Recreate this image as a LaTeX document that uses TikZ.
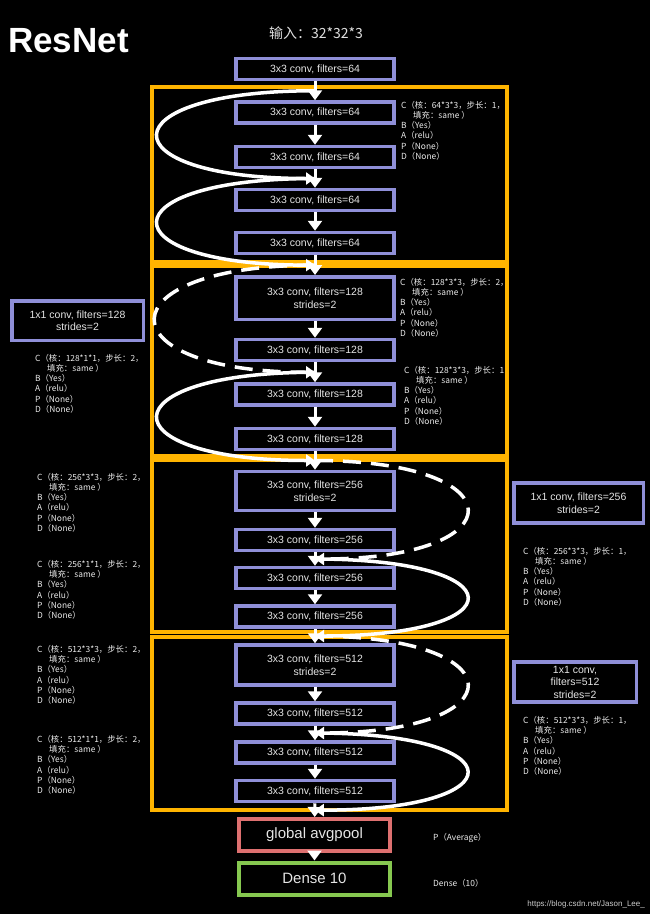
\documentclass[tikz,border=0pt]{standalone}
\usepackage{fontspec}
\setmainfont{Liberation Sans}
\newfontfamily\cjk{Noto Sans CJK SC}
\usetikzlibrary{arrows.meta,calc}

\definecolor{convcol}{RGB}{143,143,216}
\definecolor{framecol}{RGB}{255,180,0}
\definecolor{poolcol}{RGB}{222,112,112}
\definecolor{densecol}{RGB}{134,200,80}

% text beside a conv layer: kernel, stride
\newcommand{\layernote}[2]{C（核：#1，步长：#2\\\hspace*{12pt}填充：same ）\\B（Yes）\\A（relu）\\P（None）\\D（None）}

\begin{document}
\begin{tikzpicture}[
    x=1pt, y=-1pt,
    conv/.style={draw=convcol,line width=3.5pt,text=white!90!black,inner sep=0pt,
      minimum width=158pt,minimum height=21pt,align=center,
      font=\fontsize{10.5}{12.5}\selectfont},
    wide/.style={conv,minimum height=39pt},
    side/.style={conv,minimum height=40pt},
    head/.style={conv,line width=4pt,minimum width=151pt,minimum height=32pt,
      font=\fontsize{15}{18}\selectfont},
    frame/.style={draw=framecol,line width=4pt},
    note/.style={text=white!92!black,inner sep=0pt,anchor=north west,align=left,
      font=\cjk\fontsize{8.4}{10.2}\selectfont},
    flow/.style={white,line width=3pt,-{Triangle[width=14pt,length=10pt]}},
    skip/.style={white,line width=3.5pt,-{Triangle[width=12pt,length=9pt]}},
    shortcut/.style={skip,dash pattern=on 18pt off 10pt}
    ]

    \fill[black] (0,0) rectangle (650,914);
    \useasboundingbox (0,0) rectangle (650,914);

    \node (title) [text=white,inner sep=0pt,anchor=west,
      font=\bfseries\fontsize{35}{40}\selectfont] at (8,41) {ResNet};
    \node (input) [text=white!88!black,font=\cjk\fontsize{14}{16}\selectfont]
      at (316,33) {输入：32*32*3};

    % notes
    \node (n1) [note] at (401,101) {\layernote{64*3*3}{1，}};
    \node (n2) [note] at (400,278) {\layernote{128*3*3}{2，}};
    \node (n3) [note] at (404,366) {\layernote{128*3*3}{1}};
    \node (n4) [note] at (35,354) {\layernote{128*1*1}{2，}};
    \node (n5) [note] at (37,473) {\layernote{256*3*3}{2，}};
    \node (n6) [note] at (37,560) {\layernote{256*1*1}{2，}};
    \node (n7) [note] at (523,547) {\layernote{256*3*3}{1，}};
    \node (n8) [note] at (37,645) {\layernote{512*3*3}{2，}};
    \node (n9) [note] at (37,735) {\layernote{512*1*1}{2，}};
    \node (n10) [note] at (523,716) {\layernote{512*3*3}{1，}};

    \node (npool) [note,anchor=west] at (433,838) {P（Average）};
    \node (ndense) [note,anchor=west] at (433,883) {Dense（10）};
    \node (url) [text=white!80!black,inner sep=0pt,anchor=east,
      font=\fontsize{8}{10}\selectfont] at (645,904) {https://blog.csdn.net/Jason\_Lee\_};

    % stages
    \draw[frame] (152,87) rectangle (507,262);
    \draw[frame] (152,266) rectangle (507,456);
    \draw[frame] (152,460) rectangle (507,632);
    \draw[frame] (152,637) rectangle (507,810);

    \node (b0) [conv] at (315,69) {3x3 conv, filters=64};
    \foreach \y [count=\i] in {112.5,157,200,243}
      \node (b\i) [conv] at (315,\y) {3x3 conv, filters=64};

    \node (c1) [wide,minimum height=42.5pt] at (315,298) {3x3 conv, filters=128\\strides=2};
    \foreach \y [count=\i from 2] in {350,394.5,439}
      \node (c\i) [conv] at (315,\y) {3x3 conv, filters=128};

    \node (d1) [wide] at (315,491) {3x3 conv, filters=256\\strides=2};
    \foreach \y [count=\i from 2] in {540,578,616.5}
      \node (d\i) [conv] at (315,\y) {3x3 conv, filters=256};

    \node (e1) [wide,minimum height=40pt] at (315,665) {3x3 conv, filters=512\\strides=2};
    \foreach \y [count=\i from 2] in {713.5,752.5,791}
      \node (e\i) [conv] at (315,\y) {3x3 conv, filters=512};

    \node (pool) [head,draw=poolcol] at (314.5,835) {global avgpool};
    \node (dense) [head,draw=densecol] at (314.5,878.5) {Dense 10};

    \node (s128) [side,minimum width=131.5pt,minimum height=39.5pt]
      at (77.5,320.5) {1x1 conv, filters=128\\strides=2};
    \node (s256) [side,minimum width=129.5pt]
      at (578.5,503) {1x1 conv, filters=256\\strides=2};
    \node (s512) [side,minimum width=122.5pt]
      at (575,682) {1x1 conv,\\filters=512\\strides=2};

    \foreach \a/\b in {b0/b1,b1/b2,b2/b3,b3/b4,b4/c1,c1/c2,c2/c3,c3/c4,c4/d1,
                       d1/d2,d2/d3,d3/d4,d4/e1,e1/e2,e2/e3,e3/e4,e4/pool,pool/dense}
      \draw[flow] (\a) -- (\b);

    % shortcuts
    \coordinate (g0) at ($(b0.south)!0.5!(b1.north)$);
    \coordinate (g1) at ($(b2.south)!0.5!(b3.north)$);
    \coordinate (g2) at ($(b4.south)!0.5!(c1.north)$);
    \coordinate (g3) at ($(c2.south)!0.5!(c3.north)$);
    \coordinate (g4) at ($(c4.south)!0.5!(d1.north)$);
    \coordinate (g5) at ($(d2.south)!0.5!(d3.north)$);
    \coordinate (g6) at ($(d4.south)!0.5!(e1.north)$);
    \coordinate (g7) at ($(e2.south)!0.5!(e3.north)$);
    \coordinate (g8) at ($(e4.south)!0.5!(pool.north)$);

    \draw[skip] (g0) .. controls +(-210,0) and +(-210,0) .. (g1);
    \draw[skip] (g1) .. controls +(-210,0) and +(-210,0) .. (g2);
    \draw[shortcut] (g2) .. controls +(-213,0) and +(-213,0) .. (g3);
    \draw[skip] (g3) .. controls +(-210,0) and +(-210,0) .. (g4);
    \draw[shortcut] (g4) .. controls +(203,0) and +(203,0) .. (g5);
    \draw[skip] (g5) .. controls +(203,0) and +(203,0) .. (g6);
    \draw[shortcut] (g6) .. controls +(203,0) and +(203,0) .. (g7);
    \draw[skip] (g7) .. controls +(203,0) and +(203,0) .. (g8);

\end{tikzpicture}
\end{document}
